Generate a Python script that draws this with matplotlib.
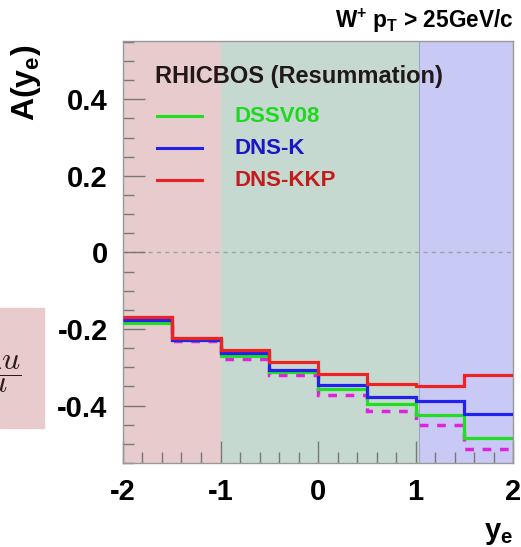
import numpy as np
import matplotlib
matplotlib.use("Agg")
import matplotlib.pyplot as plt
from matplotlib.lines import Line2D
from matplotlib.patches import Rectangle

plt.rcParams['font.family'] = ['Liberation Sans', 'DejaVu Sans']
plt.rcParams['axes.unicode_minus'] = False
plt.rcParams['mathtext.fontset'] = 'custom'
plt.rcParams['mathtext.rm'] = 'Liberation Sans:bold'
plt.rcParams['mathtext.it'] = 'Liberation Sans:bold'

W, H = 521, 547

# bins in electron rapidity
edges = [-2.0, -1.5, -1.0, -0.5, 0.0, 0.5, 1.0, 1.5, 2.0]

# A(y_e) per bin
dssv08 = [-0.184, -0.228, -0.270, -0.313, -0.358, -0.397, -0.425, -0.484]
dns_k = [-0.176, -0.228, -0.263, -0.306, -0.347, -0.377, -0.389, -0.421]
dns_kkp = [-0.170, -0.223, -0.256, -0.285, -0.318, -0.343, -0.350, -0.321]
dashed = [-0.182, -0.231, -0.278, -0.320, -0.373, -0.415, -0.451, -0.514]

series_names = ['DSSV08', 'DNS-K', 'DNS-KKP']
series_colors = ['#22dd22', '#2222ee', '#ee2222']
label_colors = ['#1fd81f', '#1818c8', '#c41c1c']

# shaded rapidity regions
regions = [(-2.0, -1.0), (-1.0, 1.03), (1.03, 2.0)]
region_colors = ['#e8cbcd', '#c5d9d1', '#c9c9f5']

yticks = [-0.4, -0.2, 0, 0.2, 0.4]
ytick_labels = ['-0.4', '-0.2', '0', '0.2', '0.4']
xticks = [-2, -1, 0, 1, 2]
xtick_labels = ['-2', '-1', '0', '1', '2']

fig = plt.figure(figsize=(W / 100, H / 100), dpi=100)
ax = fig.add_axes([0.236, 0.1536, 0.749, 0.7714])

for (a, b), c in zip(regions, region_colors):
    ax.axvspan(a, b, color=c, lw=0, zorder=0)
ax.axvline(1.03, color='#9aa6c8', lw=0.8, zorder=0.5)
ax.axhline(0, color='#a0a0a0', lw=1, ls=(0, (3, 3)), zorder=1)

ax.stairs(dashed, edges, color='#e022e0', lw=2.5, ls=(0, (2.5, 2.5)), baseline=None, zorder=2)
for vals, c in zip([dssv08, dns_k, dns_kkp], series_colors):
    ax.stairs(vals, edges, color=c, lw=2.3, baseline=None, zorder=3)

ax.set_xlim(-2, 2)
ax.set_ylim(-0.549, 0.552)
ax.set_xticks(xticks)
ax.set_xticklabels(xtick_labels)
ax.set_yticks(yticks)
ax.set_yticklabels(ytick_labels)
ax.set_xticks(np.arange(-2, 2.01, 0.2), minor=True)
ax.set_yticks(np.arange(-0.55, 0.56, 0.05), minor=True)
ax.tick_params(which='both', direction='in', color='#777777', width=1,
               top=False, right=False, labelsize=21)
ax.tick_params(which='major', length=16, pad=11)
ax.tick_params(which='minor', length=8)
for lab in ax.get_xticklabels() + ax.get_yticklabels():
    lab.set_fontweight('bold')
for s in ax.spines.values():
    s.set_color('#999999')
    s.set_linewidth(1)

# legend block (RHICBOS)
fig.text(155 / W, 1 - 77 / H, 'RHICBOS (Resummation)', ha='left', va='center',
         fontsize=17, fontweight='bold', color='#221818')
for i, (name, c, tc) in enumerate(zip(series_names, series_colors, label_colors)):
    yy = 1 - (116 + 32 * i) / H
    fig.add_artist(Line2D([157 / W, 202 / W], [yy, yy], color=c, lw=2.2,
                          transform=fig.transFigure))
    fig.text(235 / W, yy, name, ha='left', va='center', fontsize=16,
             fontweight='bold', color=tc)

fig.text(0.985, 0.962, r'W$^{+}$ p$_{T}$ > 25GeV/c', ha='right', va='center',
         fontsize=16.3, fontweight='bold')
fig.text(0.05, 0.848, r'A(y$_{e}$)', rotation=90, ha='center', va='center',
         fontsize=23, fontweight='bold')
fig.text(0.985, 0.025, r'y$_{e}$', ha='right', va='center',
         fontsize=21, fontweight='bold')

# cut-off inset box at the left edge
fig.patches.append(Rectangle((0, 1 - 428 / H), 44 / W, 120 / H,
                             transform=fig.transFigure, color='#e8cbcd', zorder=0))
fig.text(-1.5 / W, 1 - 370 / H, r'$\dfrac{\Delta u}{u}$', ha='center', va='center',
         fontsize=23, math_fontfamily='cm', color='#2a1a1a')

fig.savefig('out.png', dpi=100)
